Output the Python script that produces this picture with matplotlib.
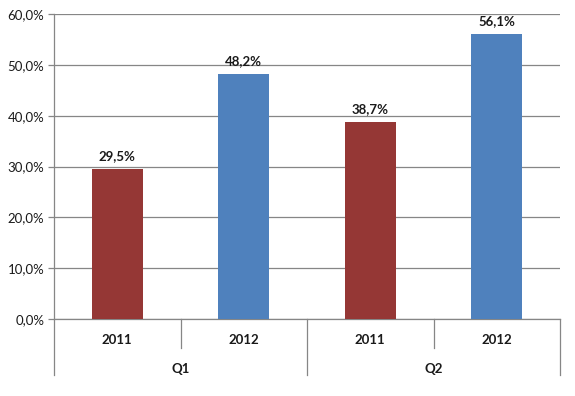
import matplotlib
matplotlib.use("Agg")
import matplotlib.pyplot as plt
import matplotlib.transforms as mtransforms

plt.rcParams["font.family"] = ["Lato", "DejaVu Sans"]

years = ["2011", "2012", "2011", "2012"]
quarters = ["Q1", "Q2"]
values = [29.5, 48.2, 38.7, 56.1]
colors = ["#953735", "#4F81BD", "#953735", "#4F81BD"]
yticks = [0, 10, 20, 30, 40, 50, 60]

GRID = "#868686"
FS = 9.5

fig = plt.figure(figsize=(5.75, 3.96), dpi=100)
ax = fig.add_axes([54 / 575, 1 - 319 / 396, 506 / 575, 305 / 396])

x = list(range(len(values)))
ax.bar(x, values, width=0.4, color=colors, zorder=3)
for xi, v in zip(x, values):
    ax.annotate(f"{v:.1f}%".replace(".", ","), (xi, v), xytext=(0, 5),
                textcoords="offset points", ha="center", va="bottom",
                fontsize=FS, fontweight="bold", color="#1a1a1a")

ax.set_xlim(-0.5, len(values) - 0.5)
ax.set_ylim(0, 60)
ax.set_yticks(yticks)
ax.set_yticklabels([f"{t:.1f}%".replace(".", ",") for t in yticks], fontsize=FS, color="#1a1a1a")
ax.yaxis.grid(True, color=GRID, linewidth=0.9, zorder=0)
ax.tick_params(axis="y", length=4, color=GRID, width=0.9, pad=3)
ax.set_xticks([])
for side in ("top", "right"):
    ax.spines[side].set_visible(False)
for side in ("left", "bottom"):
    ax.spines[side].set_color(GRID)
    ax.spines[side].set_linewidth(0.9)

trans = mtransforms.blended_transform_factory(ax.transData, ax.transAxes)
# year labels and inner separators
for xi, yr in zip(x, years):
    ax.text(xi, -0.069, yr, transform=trans, ha="center", va="center",
            fontsize=FS, fontweight="bold", color="#1a1a1a")
for b in (0.5, 2.5):
    ax.plot([b, b], [0, -0.095], transform=trans, color=GRID, lw=0.9, clip_on=False)
# quarter labels and outer separators
n = len(years) // len(quarters)
for i, q in enumerate(quarters):
    ax.text(i * n + (n - 1) / 2, -0.164, q, transform=trans, ha="center", va="center",
            fontsize=FS, fontweight="bold", color="#1a1a1a")
for b in (-0.5, 1.5, 3.5):
    ax.plot([b, b], [0, -0.184], transform=trans, color=GRID, lw=0.9, clip_on=False)

fig.savefig("out.png", dpi=100, facecolor="white")
